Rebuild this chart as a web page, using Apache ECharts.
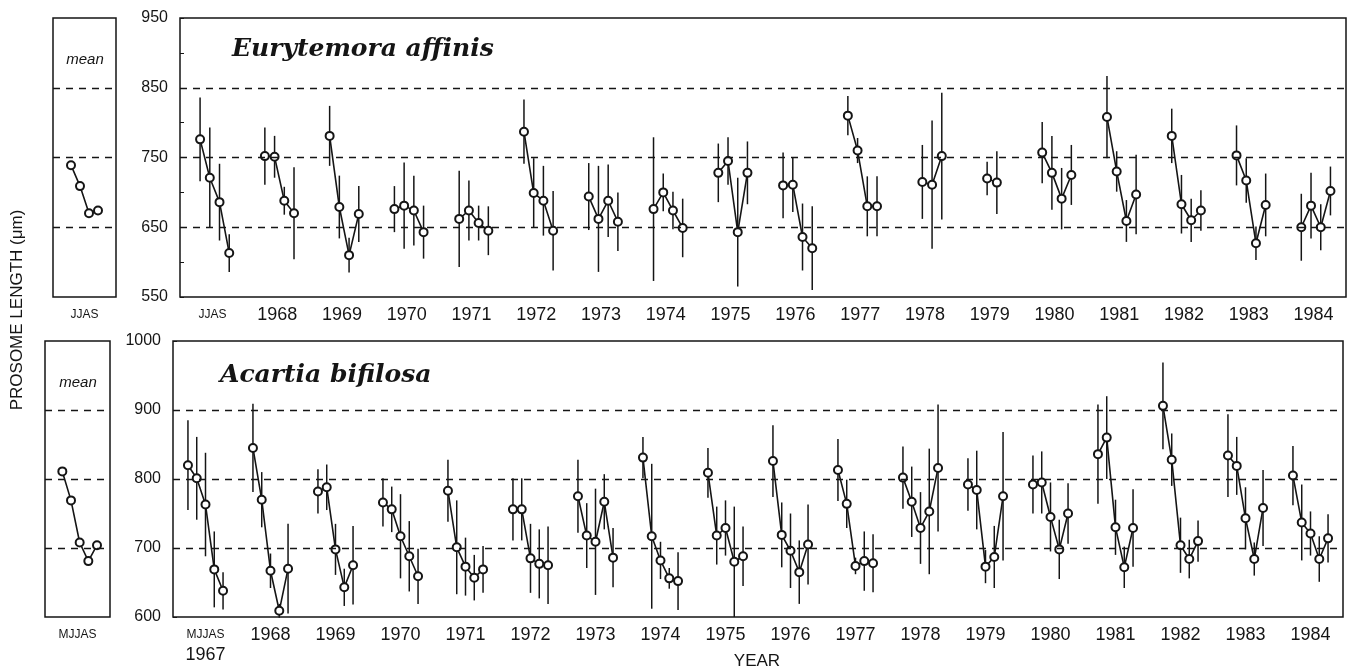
<!DOCTYPE html>
<html>
<head>
<meta charset="utf-8">
<script src="https://cdn.jsdelivr.net/npm/echarts@6/dist/echarts.min.js"></script>
<style>
  html, body { margin: 0; padding: 0; background: #fff; }
</style>
</head>
<body>
<div id="myChart" style="width:1351px;height:671px"></div>
<script>
// years 1967..1984, one group of monthly points per year
var years = [1967, 1968, 1969, 1970, 1971, 1972, 1973, 1974, 1975, 1976, 1977, 1978, 1979, 1980, 1981, 1982, 1983, 1984]
var eurLabels = ['JJAS', '1968', '1969', '1970', '1971', '1972', '1973', '1974', '1975', '1976', '1977', '1978', '1979', '1980', '1981', '1982', '1983', '1984']
var acaLabels = ['MJJAS', '1968', '1969', '1970', '1971', '1972', '1973', '1974', '1975', '1976', '1977', '1978', '1979', '1980', '1981', '1982', '1983', '1984']

// Eurytemora affinis, Jun Jul Aug Sep (um)
var eurLen = [
  [776, 721, 686, 613], [752, 751, 688, 670], [781, 679, 610, 669], [676, 681, 674, 643],
  [662, 674, 656, 645], [787, 699, 688, 645], [694, 662, 688, 658], [676, 700, 674, 649],
  [728, 745, 643, 728], [710, 711, 636, 620], [810, 760, 680, 680], [null, 715, 711, 752],
  [null, 720, 714, null], [757, 728, 691, 725], [808, 730, 659, 697], [781, 683, 660, 674],
  [753, 717, 627, 682], [650, 681, 650, 702]
]
var eurSd = [
  [60, 72, 55, 27], [41, 30, 20, 66], [43, 45, 25, 40], [33, 62, 50, 38],
  [69, 43, 25, 35], [46, 50, 50, 57], [48, 76, 52, 42], [103, 27, 27, 42],
  [42, 34, 78, 45], [47, 39, 48, 60], [28, 18, 43, 43], [null, 53, 92, 91],
  [null, 24, 45, null], [44, 53, 44, 43], [59, 29, 30, 57], [39, 42, 31, 29],
  [43, 32, 24, 45], [48, 47, 33, 35]
]
var eurMean = [739, 709, 670, 674]

// Acartia bifilosa, May Jun Jul Aug Sep (um)
var acaLen = [
  [820, 801, 763, 669, 638], [845, 770, 667, 609, 670], [782, 788, 698, 643, 675],
  [766, 756, 717, 688, 659], [783, 701, 673, 657, 669], [756, 756, 685, 677, 675],
  [775, 718, 709, 767, 686], [831, 717, 682, 656, 652], [809, 718, 729, 680, 688],
  [826, 719, 696, 665, 705], [813, 764, 674, 681, 678], [802, 767, 729, 753, 816],
  [792, 784, 673, 687, 775], [792, 795, 745, 698, 750], [836, 860, 730, 672, 729],
  [906, 828, 704, 684, 710], [834, 819, 743, 684, 758], [805, 737, 721, 684, 714]
]
var acaSd = [
  [65, 60, 75, 55, 27], [64, 40, 25, 10, 65], [32, 33, 37, 27, 57],
  [35, 33, 61, 51, 40], [45, 68, 42, 33, 34], [45, 45, 50, 50, 56],
  [53, 47, 77, 40, 43], [30, 105, 27, 15, 42], [36, 42, 40, 80, 43],
  [52, 47, 54, 46, 58], [45, 35, 12, 43, 42], [45, 51, 52, 91, 92],
  [38, 57, 24, 45, 93], [42, 45, 50, 43, 44], [72, 60, 40, 30, 56],
  [63, 38, 40, 28, 30], [60, 42, 45, 24, 55], [43, 55, 32, 33, 35]
]
var acaMean = [811, 769, 708, 681, 704]

var eurOffs = [-0.19, -0.04, 0.11, 0.26]
var acaOffs = [-0.27, -0.135, 0, 0.135, 0.27]

var INK = '#151515'
var FONT = 'Liberation Sans'

function linePoints (vals, offs) {
  var pts = []
  vals.forEach(function (row, i) {
    row.forEach(function (v, j) {
      pts.push([i + offs[j], v == null ? '-' : v])
    })
    pts.push([i + 0.45, '-'])
  })
  return pts
}

function barPoints (vals, sds, offs) {
  var pts = []
  vals.forEach(function (row, i) {
    row.forEach(function (v, j) {
      if (v != null) pts.push([i + offs[j], v - sds[i][j], v + sds[i][j]])
    })
  })
  return pts
}

function meanPoints (vals) {
  return vals.map(function (v, j) { return [j + 2, v] })
}

function dashLines (levels) {
  return {
    silent: true,
    symbol: ['none', 'none'],
    label: { show: false },
    lineStyle: { type: [7, 6], color: INK, width: 1.3 },
    data: levels.map(function (v) { return { yAxis: v } })
  }
}

function errorBars (xi, yi, data) {
  return {
    type: 'custom',
    xAxisIndex: xi,
    yAxisIndex: yi,
    z: 3,
    data: data,
    renderItem: function (params, api) {
      var p1 = api.coord([api.value(0), api.value(1)])
      var p2 = api.coord([api.value(0), api.value(2)])
      return {
        type: 'line',
        shape: { x1: p1[0], y1: p1[1], x2: p2[0], y2: p2[1] },
        style: { stroke: INK, lineWidth: 1.5 }
      }
    }
  }
}

function lineSeries (xi, yi, data, levels) {
  return {
    type: 'line',
    xAxisIndex: xi,
    yAxisIndex: yi,
    data: data,
    symbol: 'emptyCircle',
    symbolSize: 8,
    showAllSymbol: true,
    z: 4,
    lineStyle: { color: INK, width: 1.6 },
    itemStyle: { color: INK, borderWidth: 1.5 },
    markLine: dashLines(levels)
  }
}

function hiddenX (gi, min, max) {
  return { type: 'value', gridIndex: gi, position: 'top', min: min, max: max, show: false }
}

function labelX (gi, data, first) {
  return {
    type: 'category',
    gridIndex: gi,
    position: 'bottom',
    data: data,
    boundaryGap: true,
    axisLine: { show: false },
    axisTick: { show: false },
    splitLine: { show: false },
    axisLabel: {
      margin: 9,
      interval: 0,
      color: INK,
      fontFamily: FONT,
      fontSize: 18,
      formatter: function (v, i) {
        if (i === 0) return first
        return v
      },
      rich: {
        s: { fontSize: 12, fontFamily: FONT, color: INK, lineHeight: 18 },
        b: { fontSize: 18, fontFamily: FONT, color: INK, lineHeight: 22 }
      }
    }
  }
}

function valueY (gi, min, max, interval, labels, keep) {
  return {
    type: 'value',
    gridIndex: gi,
    position: 'left',
    min: min,
    max: max,
    interval: interval,
    axisLine: { show: false, onZero: false },
    splitLine: { show: false },
    axisTick: { show: labels, inside: true, length: 4, lineStyle: { color: INK } },
    axisLabel: {
      show: labels,
      margin: 12,
      color: INK,
      fontFamily: FONT,
      fontSize: 16,
      formatter: function (v) { return keep.indexOf(v) >= 0 ? String(v) : '' }
    }
  }
}

var gridStyle = { show: true, borderColor: INK, borderWidth: 1.5, backgroundColor: '#fff' }

var options = {
  animation: false,
  backgroundColor: '#fff',
  grid: [
    Object.assign({ left: 53, top: 18, width: 63, height: 279 }, gridStyle),
    Object.assign({ left: 180, top: 18, right: 5, height: 279 }, gridStyle),
    Object.assign({ left: 45, top: 341, width: 65, height: 276 }, gridStyle),
    Object.assign({ left: 173, top: 341, right: 8, height: 276 }, gridStyle)
  ],
  xAxis: [
    hiddenX(0, 0, 7),
    labelX(0, ['JJAS'], '{s|JJAS}'),
    hiddenX(1, -0.5, 17.5),
    labelX(1, eurLabels, '{s|JJAS}'),
    hiddenX(2, 0, 7.5),
    labelX(2, ['MJJAS'], '{s|MJJAS}'),
    hiddenX(3, -0.5, 17.5),
    labelX(3, acaLabels, '{s|MJJAS}\n{b|1967}')
  ],
  yAxis: [
    valueY(0, 550, 950, 50, false, []),
    valueY(1, 550, 950, 50, true, [550, 650, 750, 850, 950]),
    valueY(2, 600, 1000, 100, false, []),
    valueY(3, 600, 1000, 100, true, [600, 700, 800, 900, 1000])
  ],
  series: [
    lineSeries(0, 0, meanPoints(eurMean), [650, 750, 850]),
    lineSeries(2, 1, linePoints(eurLen, eurOffs), [650, 750, 850]),
    errorBars(2, 1, barPoints(eurLen, eurSd, eurOffs)),
    lineSeries(4, 2, meanPoints(acaMean), [700, 800, 900]),
    lineSeries(6, 3, linePoints(acaLen, acaOffs), [700, 800, 900]),
    errorBars(6, 3, barPoints(acaLen, acaSd, acaOffs))
  ],
  graphic: [
    {
      type: 'text', left: 232, top: 37, z: 10,
      style: { text: 'Eurytemora affinis', font: 'italic bold 25px "DejaVu Serif"', fill: INK }
    },
    {
      type: 'text', left: 220, top: 363, z: 10,
      style: { text: 'Acartia bifilosa', font: 'italic bold 25px "DejaVu Serif"', fill: INK }
    },
    {
      type: 'text', x: 85, y: 60, z: 10,
      style: { text: 'mean', font: 'italic 15px "Liberation Sans"', fill: INK, align: 'center', verticalAlign: 'middle' }
    },
    {
      type: 'text', x: 78, y: 383, z: 10,
      style: { text: 'mean', font: 'italic 15px "Liberation Sans"', fill: INK, align: 'center', verticalAlign: 'middle' }
    },
    {
      type: 'text', x: 17, y: 310, rotation: Math.PI / 2, z: 10,
      style: { text: 'PROSOME LENGTH (\u03bcm)', font: '17px "Liberation Sans"', fill: INK, align: 'center', verticalAlign: 'middle' }
    },
    {
      type: 'text', x: 757, y: 661, z: 10,
      style: { text: 'YEAR', font: '17px "Liberation Sans"', fill: INK, align: 'center', verticalAlign: 'middle' }
    }
  ]
}

var myChart = echarts.init(document.getElementById('myChart'))
myChart.setOption(options)
</script>
</body>
</html>
